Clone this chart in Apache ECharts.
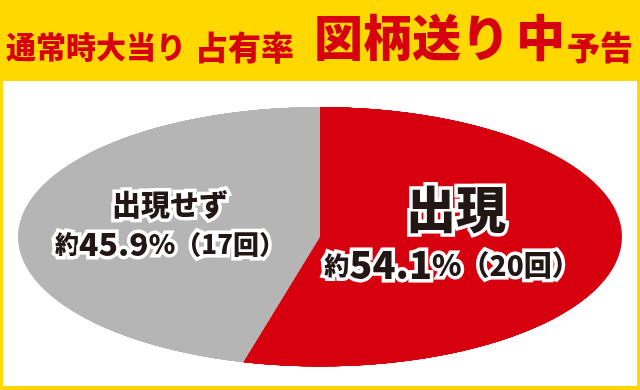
<!DOCTYPE html>
<html><head><meta charset="utf-8">
<script src="https://cdn.jsdelivr.net/npm/echarts@6/dist/echarts.min.js"></script>
<style>
html,body{margin:0;padding:0;background:#fff;}
#wrap{position:relative;width:640px;height:390px;overflow:hidden;}
#bg,#fg{position:absolute;left:0;top:0;width:640px;height:390px;}
#pie{position:absolute;left:0;top:99px;width:640px;height:640px;transform:scaleY(0.4305);transform-origin:0 0;}
</style></head><body>
<div id="wrap"><div id="bg"></div><div id="pie"></div><div id="fg"></div></div>
<script>
// ---- data ----
const titleParts = ['通常時大当り', '占有率'];
const titleBigParts = ['図柄送り', '中'];
const titleSmall = '予告';
const categories = ['出現', '出現せず'];
const percents = [54.1, 45.9];
const counts = [20, 17];
const sliceColors = ['#D7000F', '#B5B5B6'];

const FONT = '"Noto Sans CJK JP", "Noto Sans", sans-serif';
const RED = '#D7000F';
const YELLOW = '#FFD800';
const INK = '#221714';

// ---- background + header ----
const bg = echarts.init(document.getElementById('bg'), null, {renderer: 'canvas'});
function hText(x, y, txt, size) {
  return {type: 'text', x: x, y: y, style: {text: txt, fill: RED, fontSize: size, fontWeight: 900,
    fontFamily: FONT, textAlign: 'left', textVerticalAlign: 'middle'}};
}
bg.setOption({
  animation: false,
  graphic: [
    {type: 'rect', shape: {x: 0, y: 0, width: 640, height: 390}, style: {fill: YELLOW}},
    {type: 'rect', shape: {x: 3, y: 81, width: 634, height: 305}, style: {fill: '#fff'}},
    hText(6, 47, titleParts[0], 30),
    hText(195, 47, titleParts[1], 33),
    hText(314, 37, titleBigParts[0], 49),
    hText(516, 37, titleBigParts[1], 49),
    hText(567, 47, titleSmall, 33)
  ]
});

// ---- pie (stretched into an ellipse) ----
const pie = echarts.init(document.getElementById('pie'), null, {renderer: 'canvas', devicePixelRatio: 2});
pie.setOption({
  animation: false,
  series: [{
    type: 'pie', silent: true, center: [320, 320], radius: 302,
    startAngle: 90, clockwise: true, label: {show: false}, labelLine: {show: false},
    itemStyle: {borderWidth: 0},
    data: categories.map((c, i) => ({name: c, value: percents[i], itemStyle: {color: sliceColors[i]}}))
  }]
});

// ---- labels ----
const fg = echarts.init(document.getElementById('fg'));
function seg(size) {
  return {fontSize: size, fontWeight: 900, fontFamily: FONT, fill: INK, stroke: '#fff', lineWidth: 7};
}
function lbl(x, y, txt, rich, size) {
  return {type: 'text', x: x, y: y, z: 10, style: {text: txt, rich: rich, fontSize: size || 26, fontWeight: 900,
    fontFamily: FONT, fill: INK, stroke: '#fff', lineWidth: 7, textAlign: 'center', textVerticalAlign: 'middle'}};
}
const richL = {s: seg(24), n: seg(32), p: seg(27), q: seg(26)};
const richR = {s: seg(25), n: seg(38), p: seg(30), q: seg(28)};
function line2(i) {
  return '{s|約}{n|' + percents[i] + '}{p|%}{q|（' + counts[i] + '回）}';
}
fg.setOption({
  animation: false,
  graphic: [
    lbl(170, 205, categories[1], null, 29),
    lbl(170, 244, line2(1), richL),
    lbl(456, 209, categories[0], null, 50),
    lbl(452, 265, line2(0), richR)
  ]
});
</script>
</body></html>
